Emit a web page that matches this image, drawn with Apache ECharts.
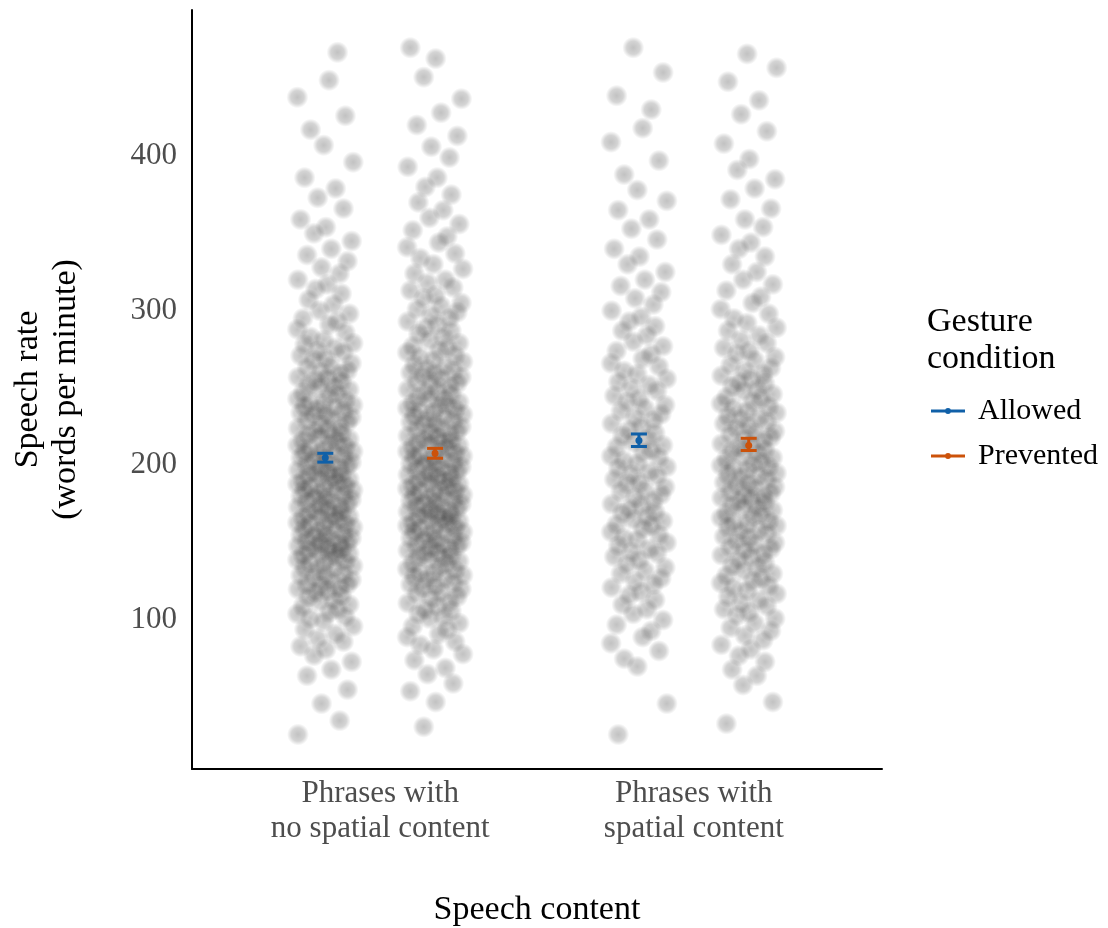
<!DOCTYPE html>
<html>
<head>
<meta charset="utf-8">
<title>Speech rate by speech content and gesture condition</title>
<script src="https://cdn.jsdelivr.net/npm/echarts@6/dist/echarts.min.js"></script>
<style>
  html, body { margin: 0; padding: 0; background: #fff; }
  #chart { width: 1108px; height: 928px; }
</style>
</head>
<body>
<div id="chart"></div>
<script>
// speech content (x axis) and gesture condition (legend)
const categories = ['Phrases with\nno spatial content', 'Phrases with\nspatial content'];
const conditions = ['Allowed', 'Prevented'];
const yTicks = [100, 200, 300, 400];

// raw speech rates, words per minute
const rateNoSpatialAllowed = [
  24, 33, 44, 53, 62, 66, 71, 75, 79, 81, 84, 86, 89, 92, 94, 97, 99,
  100, 102, 103, 105, 107, 108, 110, 111, 113, 114, 116, 117, 118, 119,
  120, 121, 121, 123, 124, 125, 127, 127, 128, 130, 131, 132, 133, 134, 135, 136, 137, 138, 139,
  140, 141, 141, 142, 143, 144, 145, 145, 146, 147, 148, 148, 149, 150, 151, 152, 153, 153, 154, 155, 156, 157, 158, 159,
  160, 160, 161, 162, 163, 164, 165, 165, 166, 167, 168, 169, 170, 171, 171, 172, 173, 174, 175, 176, 177, 177, 178, 179,
  180, 181, 182, 182, 183, 184, 185, 186, 187, 187, 188, 189, 190, 191, 192, 192, 193, 194, 195, 196, 197, 198, 198, 199,
  200, 201, 202, 203, 204, 205, 206, 206, 207, 208, 209, 210, 211, 212, 213, 214, 215, 216, 217, 218, 219,
  220, 221, 222, 223, 224, 226, 227, 228, 229, 230, 231, 232, 233, 234, 235, 236, 237, 238, 239,
  240, 241, 243, 244, 245, 247, 248, 249, 250, 252, 253, 254, 255, 257, 258, 259,
  261, 262, 264, 266, 267, 269, 271, 272, 274, 276, 277, 279,
  281, 284, 286, 289, 291, 293, 296, 298, 302, 305, 309, 312, 315, 318,
  322, 326, 330, 334, 338, 343, 348, 352, 357, 364, 371, 377, 384, 394,
  405, 415, 424, 436, 447, 465
];
const rateNoSpatialPrevented = [
  29, 45, 52, 57, 63, 67, 72, 76, 79, 82, 84, 87, 89, 92, 94, 96, 99,
  100, 102, 104, 105, 107, 109, 110, 112, 113, 115, 116, 118, 119,
  120, 121, 122, 124, 125, 126, 127, 128, 129, 130, 131, 132, 134, 135, 136, 137, 138, 139,
  140, 141, 142, 143, 144, 145, 146, 146, 147, 148, 149, 150, 151, 152, 153, 154, 155, 155, 156, 157, 158, 159,
  160, 161, 161, 162, 163, 164, 165, 165, 166, 167, 168, 168, 169, 170, 171, 172, 173, 173, 174, 175, 176, 177, 178, 178, 179,
  180, 181, 182, 183, 183, 184, 185, 186, 187, 188, 188, 189, 190, 191, 192, 193, 193, 194, 195, 196, 197, 198, 199, 199,
  200, 201, 202, 203, 204, 204, 205, 206, 207, 208, 209, 210, 211, 212, 213, 213, 214, 215, 216, 217, 218, 219,
  220, 221, 222, 223, 224, 225, 226, 227, 228, 229, 230, 231, 232, 233, 234, 235, 236, 237, 238, 239,
  240, 241, 242, 244, 245, 246, 247, 249, 250, 251, 252, 254, 255, 256, 257, 258, 259,
  260, 262, 263, 265, 266, 268, 269, 271, 272, 274, 275, 277, 279,
  281, 283, 285, 287, 289, 291, 293, 295, 297, 299,
  301, 303, 306, 308, 311, 313, 316, 318, 322, 325, 328, 332, 335, 339,
  342, 346, 350, 354, 358, 363, 368, 373, 378, 384, 391, 397,
  404, 411, 418, 426, 435, 449, 461, 468
];
const rateSpatialAllowed = [
  24, 44, 68, 73, 78, 83, 87, 91, 95, 98,
  102, 105, 108, 111, 114, 116, 119, 121, 123, 125, 128, 130, 132, 134, 137, 139,
  141, 142, 144, 146, 148, 150, 151, 153, 155, 157, 159,
  160, 162, 163, 165, 167, 168, 170, 172, 173, 175, 177, 179,
  181, 182, 184, 186, 187, 189, 191, 192, 194, 196, 197, 199,
  201, 203, 204, 206, 208, 210, 211, 213, 215, 217, 219,
  221, 223, 225, 227, 229, 231, 233, 235, 237, 239,
  241, 243, 246, 248, 250, 252, 254, 257, 259,
  262, 264, 267, 270, 272, 275, 278, 282, 285, 288, 291, 294, 298,
  302, 306, 310, 314, 318, 323, 328, 333, 338, 344, 351, 357,
  363, 369, 376, 386, 395, 407, 416, 428, 437, 452, 468
];
const rateSpatialPrevented = [
  31, 45, 56, 62, 66, 71, 75, 79, 82, 85, 88, 91, 93, 96, 99,
  101, 103, 105, 107, 109, 111, 113, 115, 117, 119,
  120, 122, 123, 125, 127, 128, 130, 132, 133, 135, 137, 139,
  140, 141, 143, 144, 145, 147, 148, 149, 151, 152, 154, 155, 156, 158, 159,
  160, 161, 162, 164, 165, 166, 167, 169, 170, 171, 172, 174, 175, 176, 177, 178, 179,
  180, 181, 183, 184, 185, 186, 187, 189, 190, 191, 192, 193, 195, 196, 197, 198, 199,
  200, 202, 203, 204, 206, 207, 208, 210, 211, 212, 214, 215, 216, 218, 219,
  220, 222, 223, 225, 226, 228, 229, 230, 232, 233, 235, 236, 238, 239,
  241, 242, 244, 246, 247, 249, 251, 252, 254, 256, 257, 259,
  261, 263, 266, 268, 270, 272, 274, 277, 279,
  282, 285, 287, 290, 293, 296, 299, 303, 307, 311, 315, 318,
  323, 328, 333, 338, 342, 347, 352, 357, 364, 370, 377,
  383, 389, 396, 406, 414, 425, 434, 446, 455, 464
];

// condition means with 95% confidence limits, per speech content
const meanAllowed = [202.9, 214.0];
const lowAllowed = [200.1, 210.2];
const highAllowed = [205.8, 218.3];
const meanPrevented = [205.8, 210.8];
const lowPrevented = [202.6, 207.6];
const highPrevented = [209.0, 215.5];

// horizontal jitter offsets (category units), cycled through each cloud
const jitter = [-0.087, 0.046, -0.012, 0.071, -0.058, 0.019, 0.084, -0.036, 0.002, -0.079, 0.058, -0.024,
  0.033, -0.066, 0.089, -0.005, -0.047, 0.064, -0.089, 0.012, 0.039, -0.071, 0.077, -0.018,
  0.026, -0.053, 0.052, -0.031, 0.007];

const dodge = 0.175;
const font = '"Liberation Serif", "Times New Roman", serif';
const colors = { Allowed: '#1060a8', Prevented: '#cc520a' };

function cloud(values, pos, start) {
  return values.map((v, i) => [pos + jitter[(i + start) % jitter.length], v]);
}

function errorBar(params, api) {
  const x = api.value(0);
  const mid = api.coord([x, api.value(1)]);
  const low = api.coord([x, api.value(2)]);
  const high = api.coord([x, api.value(3)]);
  const color = api.visual('color');
  const half = 8;
  const line = { stroke: color, lineWidth: 3 };
  return {
    type: 'group',
    children: [
      { type: 'line', shape: { x1: low[0], y1: low[1], x2: high[0], y2: high[1] }, style: line },
      { type: 'line', shape: { x1: low[0] - half, y1: low[1], x2: low[0] + half, y2: low[1] }, style: line },
      { type: 'line', shape: { x1: high[0] - half, y1: high[1], x2: high[0] + half, y2: high[1] }, style: line },
      { type: 'circle', shape: { cx: mid[0], cy: mid[1], r: 3.5 }, style: { fill: color } }
    ]
  };
}

// soft translucent dots so the fewer points blend into a cloud
const points = {
  type: 'scatter',
  symbol: 'circle',
  symbolSize: 22,
  silent: true,
  z: 1,
  itemStyle: {
    color: {
      type: 'radial', x: 0.5, y: 0.5, r: 0.5,
      colorStops: [
        { offset: 0, color: 'rgba(0,0,0,0.3)' },
        { offset: 0.6, color: 'rgba(0,0,0,0.21)' },
        { offset: 1, color: 'rgba(0,0,0,0)' }
      ]
    }
  }
};

const chart = echarts.init(document.getElementById('chart'));
chart.setOption({
  animation: false,
  backgroundColor: '#fff',
  title: {
    text: 'Gesture\ncondition',
    left: 927,
    top: 304,
    padding: 0,
    textStyle: { fontFamily: font, fontSize: 34, lineHeight: 37, fontWeight: 'normal', color: '#000' }
  },
  legend: {
    data: conditions,
    orient: 'vertical',
    left: 931,
    top: 393,
    padding: 0,
    itemWidth: 34,
    itemHeight: 6,
    itemGap: 9,
    icon: 'path://M0,1.5H34V4.5H0Z M17,0A3,3 0 1 1 17,6A3,3 0 1 1 17,0Z',
    textStyle: { fontFamily: font, fontSize: 30, lineHeight: 36, color: '#000', padding: [0, 0, 0, 8] },
    selectedMode: false
  },
  grid: { left: 192, right: 226, top: 10, bottom: 159, containLabel: false, outerBoundsMode: 'none' },
  xAxis: {
    type: 'value',
    min: 0.4,
    max: 2.6,
    name: 'Speech content',
    nameLocation: 'middle',
    nameGap: 122,
    nameTextStyle: { fontFamily: font, fontSize: 34, lineHeight: 38, color: '#000' },
    axisLine: { lineStyle: { color: '#000', width: 2 } },
    axisTick: { show: false },
    splitLine: { show: false },
    axisLabel: {
      customValues: [1, 2],
      formatter: v => categories[Math.round(v) - 1],
      fontFamily: font,
      fontSize: 31,
      lineHeight: 35,
      color: '#4d4d4d',
      margin: 7
    }
  },
  yAxis: {
    type: 'value',
    min: 1.7,
    max: 492.4,
    name: 'Speech rate\n(words per minute)',
    nameLocation: 'middle',
    nameGap: 107,
    nameTextStyle: { fontFamily: font, fontSize: 34, lineHeight: 38, color: '#000' },
    axisLine: { show: true, lineStyle: { color: '#000', width: 2 } },
    axisTick: { show: false },
    splitLine: { show: false },
    axisLabel: {
      customValues: yTicks,
      formatter: '{t|{value}}',
      margin: 15,
      rich: {
        t: { fontFamily: font, fontSize: 31, color: '#4d4d4d', padding: [6, 0, 0, 0] }
      }
    }
  },
  series: [
    Object.assign({ name: 'cloud1', data: cloud(rateNoSpatialAllowed, 1 - dodge, 0) }, points),
    Object.assign({ name: 'cloud2', data: cloud(rateNoSpatialPrevented, 1 + dodge, 7) }, points),
    Object.assign({ name: 'cloud3', data: cloud(rateSpatialAllowed, 2 - dodge, 13) }, points),
    Object.assign({ name: 'cloud4', data: cloud(rateSpatialPrevented, 2 + dodge, 21) }, points),
    {
      name: 'Allowed',
      type: 'custom',
      z: 5,
      color: colors.Allowed,
      renderItem: errorBar,
      encode: { x: 0, y: [1, 2, 3] },
      data: meanAllowed.map((m, i) => [i + 1 - dodge, m, lowAllowed[i], highAllowed[i]])
    },
    {
      name: 'Prevented',
      type: 'custom',
      z: 5,
      color: colors.Prevented,
      renderItem: errorBar,
      encode: { x: 0, y: [1, 2, 3] },
      data: meanPrevented.map((m, i) => [i + 1 + dodge, m, lowPrevented[i], highPrevented[i]])
    }
  ]
});
</script>
</body>
</html>
